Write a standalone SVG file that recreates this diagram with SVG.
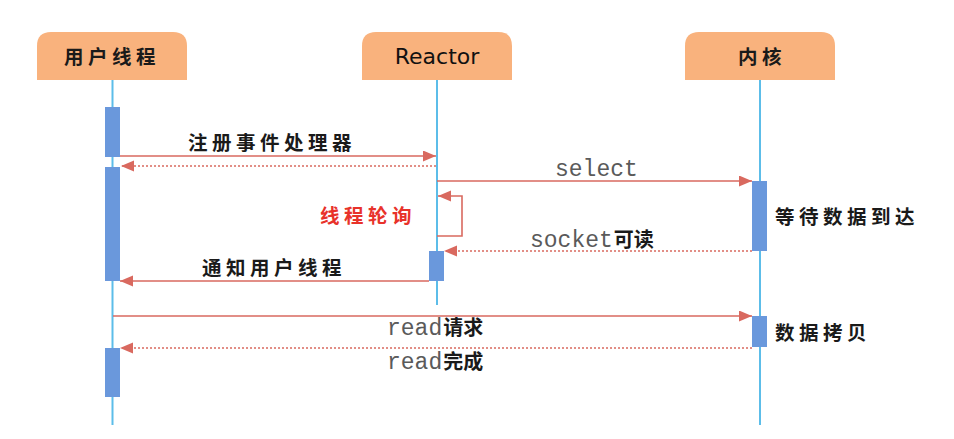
<svg xmlns="http://www.w3.org/2000/svg" width="954" height="439" viewBox="0 0 954 439">
<style>
.hdr{fill:#f9b27d}
.life{stroke:#5cbde9;stroke-width:2;fill:none}
.bar{fill:#6a98dc}
.msg{stroke:#d9695f;stroke-width:1.6;fill:none}
.dash{stroke-dasharray:2 2}
.cn{font-family:"Noto Sans CJK SC",sans-serif;font-weight:bold;font-size:19.5px;letter-spacing:4.5px;fill:#1a1a1a}
.mono{font-family:"Liberation Mono",monospace;font-size:23px;fill:#5a5a5a}
.cnb{font-family:"Noto Sans CJK SC",sans-serif;font-weight:bold;font-size:20px;fill:#1a1a1a}
</style>
<defs>
<marker id="ah" markerUnits="userSpaceOnUse" markerWidth="14" markerHeight="12" refX="13" refY="5.5" orient="auto">
<path d="M0,0 L13,5.5 L0,11 z" fill="#d9695f"/>
</marker>
</defs>
<rect width="954" height="439" fill="#fff"/>
<g id="user">
<path class="hdr" d="M37,80 V46 Q37,32 51,32 H173 Q187,32 187,46 V80 z"/>
<text class="cn" x="64" y="64">用户线程</text>
<line class="life" x1="112.5" y1="80" x2="112.5" y2="425"/>
<rect class="bar" x="105" y="107" width="15" height="50"/>
<rect class="bar" x="105" y="167" width="15" height="114"/>
<rect class="bar" x="105" y="348" width="15" height="49"/>
</g>
<g id="reactor">
<path class="hdr" d="M362,80 V46 Q362,32 376,32 H498 Q512,32 512,46 V80 z"/>
<text x="437" y="64" text-anchor="middle" font-family="DejaVu Sans, sans-serif" font-size="22" fill="#111">Reactor</text>
<line class="life" x1="437" y1="80" x2="437" y2="305"/>
<rect class="bar" x="429" y="251" width="15" height="30"/>
</g>
<g id="kernel">
<path class="hdr" d="M685,80 V46 Q685,32 699,32 H821 Q835,32 835,46 V80 z"/>
<text class="cn" x="738" y="64">内核</text>
<line class="life" x1="760" y1="80" x2="760" y2="425"/>
<rect class="bar" x="752" y="181" width="15" height="70"/>
<rect class="bar" x="752" y="316" width="15" height="31"/>
<text class="cn" x="775" y="224">等待数据到达</text>
<text class="cn" x="775" y="340">数据拷贝</text>
</g>
<g id="connectors">
<line class="msg" x1="120" y1="156" x2="436" y2="156" marker-end="url(#ah)"/>
<line class="msg dash" x1="436" y1="166" x2="121" y2="166" marker-end="url(#ah)"/>
<line class="msg" x1="437" y1="181" x2="752" y2="181" marker-end="url(#ah)"/>
<path class="msg" d="M437,236 H462 V196 H438" marker-end="url(#ah)"/>
<line class="msg dash" x1="752" y1="251" x2="444" y2="251" marker-end="url(#ah)"/>
<line class="msg" x1="429" y1="281" x2="120" y2="281" marker-end="url(#ah)"/>
<line class="msg" x1="113" y1="316" x2="752" y2="316" marker-end="url(#ah)"/>
<line class="msg dash" x1="752" y1="348" x2="120" y2="348" marker-end="url(#ah)"/>
<text class="cn" x="188" y="150">注册事件处理器</text>
<text class="mono" x="555" y="176">select</text>
<text class="cn" x="320" y="223" style="fill:#e8322a">线程轮询</text>
<text x="530" y="247"><tspan class="mono">socket</tspan><tspan class="cnb" dx="1">可读</tspan></text>
<text class="cn" x="202" y="275">通知用户线程</text>
<text x="387" y="335"><tspan class="mono">read</tspan><tspan class="cnb" dx="1">请求</tspan></text>
<text x="387" y="369"><tspan class="mono">read</tspan><tspan class="cnb" dx="1">完成</tspan></text>
</g>
</svg>
